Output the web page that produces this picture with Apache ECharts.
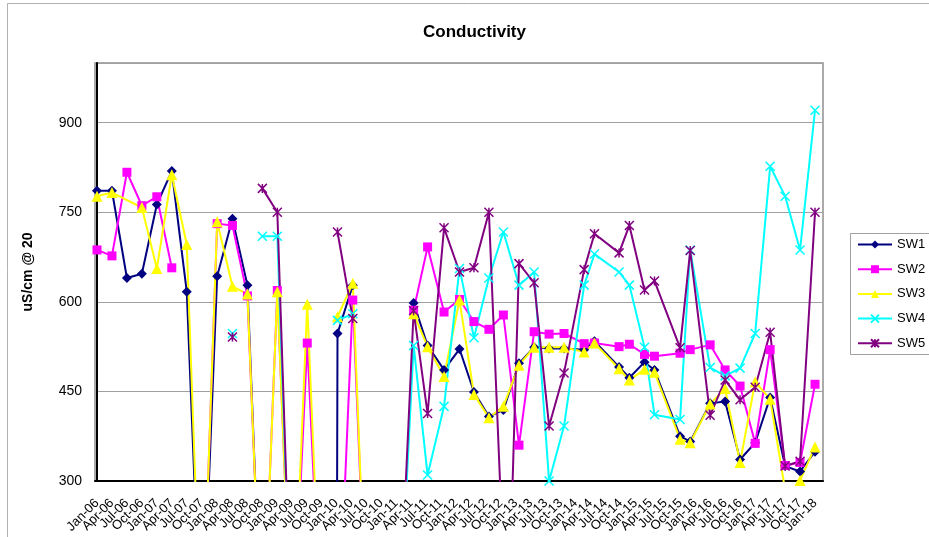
<!DOCTYPE html>
<html>
<head>
<meta charset="utf-8">
<script src="https://cdn.jsdelivr.net/npm/echarts@6/dist/echarts.min.js"></script>
<style>
  html, body { margin: 0; padding: 0; background: #fff; }
  #chart { width: 929px; height: 537px; }
</style>
</head>
<body>
<div id="chart"></div>
<script>
// Quarterly tick labels along the date axis
const tickLabels = [
  'Jan-06','Apr-06','Jul-06','Oct-06','Jan-07','Apr-07','Jul-07','Oct-07',
  'Jan-08','Apr-08','Jul-08','Oct-08','Jan-09','Apr-09','Jul-09','Oct-09',
  'Jan-10','Apr-10','Jul-10','Oct-10','Jan-11','Apr-11','Jul-11','Oct-11',
  'Jan-12','Apr-12','Jul-12','Oct-12','Jan-13','Apr-13','Jul-13','Oct-13',
  'Jan-14','Apr-14','Jul-14','Oct-14','Jan-15','Apr-15','Jul-15','Oct-15',
  'Jan-16','Apr-16','Jul-16','Oct-16','Jan-17','Apr-17','Jul-17','Oct-17',
  'Jan-18'
];

// Conductivity readings (uS/cm @ 20) per sampling date; null = no reading
const sw1 = [
  ['2006-01-01',786],['2006-04-01',786],['2006-07-01',640],['2006-10-01',647],
  ['2007-01-01',763],['2007-04-01',819],['2007-07-01',617],['2007-10-01',0],
  ['2008-01-04',643],['2008-04-06',739],['2008-07-06',628],['2008-10-06',0],
  ['2009-01-06',0],['2009-04-06',0],['2009-07-06',0],['2009-10-06',0],
  ['2010-01-03',0],['2010-01-08',547],['2010-04-10',628],['2010-07-10',null],
  ['2011-04-16',598],['2011-07-10',527],['2011-10-19',486],['2012-01-22',521],
  ['2012-04-19',449],['2012-07-19',408],['2012-10-16',419],['2013-01-20',497],
  ['2013-04-21',524],['2013-07-21',522],['2013-10-21',522],['2014-02-22',520],
  ['2014-04-24',534],['2014-09-22',491],['2014-11-24',473],['2015-02-25',499],
  ['2015-04-25',486],['2015-09-29',375],['2015-11-30',366],['2016-03-30',430],
  ['2016-06-30',433],['2016-09-30',336],['2017-01-01',364],['2017-04-01',440],
  ['2017-07-01',325],['2017-10-01',316],['2018-01-01',349]
];
const sw2 = [
  ['2006-01-01',687],['2006-04-01',677],['2006-07-01',817],['2006-10-01',761],
  ['2007-01-01',776],['2007-04-01',657],['2007-07-01',null],['2007-10-01',0],
  ['2008-01-04',731],['2008-04-06',728],['2008-07-06',610],['2008-10-06',0],
  ['2009-01-06',619],['2009-04-06',0],['2009-07-06',531],['2009-10-06',0],
  ['2010-01-08',0],['2010-04-10',603],['2010-07-10',0],['2010-10-10',null],
  ['2011-04-16',586],['2011-07-10',692],['2011-10-19',583],['2012-01-22',604],
  ['2012-04-19',567],['2012-07-19',554],['2012-10-16',578],['2013-01-20',360],
  ['2013-04-21',550],['2013-07-21',546],['2013-10-21',547],['2014-02-22',530],
  ['2014-04-24',531],['2014-09-22',525],['2014-11-24',529],['2015-02-25',512],
  ['2015-04-25',509],['2015-09-29',514],['2015-11-30',520],['2016-03-30',528],
  ['2016-06-30',486],['2016-09-30',459],['2017-01-01',363],['2017-04-01',520],
  ['2017-07-01',326],['2017-10-01',331],['2018-01-01',462]
];
const sw3 = [
  ['2006-01-01',777],['2006-04-01',783],['2006-10-01',758],['2007-01-01',656],
  ['2007-04-01',813],['2007-07-01',696],['2007-10-01',0],['2008-01-04',734],
  ['2008-04-06',626],['2008-07-06',613],['2008-10-06',0],['2009-01-06',617],
  ['2009-04-06',0],['2009-07-06',596],['2009-10-06',0],['2009-12-01',null],
  ['2010-01-08',575],['2010-04-10',631],['2010-07-10',0],['2010-10-10',null],
  ['2011-04-16',580],['2011-07-10',525],['2011-10-19',475],['2012-01-22',603],
  ['2012-04-19',445],['2012-07-19',406],['2012-10-16',425],['2013-01-20',494],
  ['2013-04-21',524],['2013-07-21',524],['2013-10-21',524],['2014-02-22',516],
  ['2014-04-24',531],['2014-09-22',488],['2014-11-24',469],['2015-02-25',487],
  ['2015-04-25',482],['2015-09-29',370],['2015-11-30',364],['2016-03-30',429],
  ['2016-06-30',455],['2016-09-30',331],['2017-01-01',466],['2017-04-01',437],
  ['2017-07-01',285],['2017-10-01',301],['2018-01-01',357]
];
const sw4 = [
  ['2008-04-06',547],['2008-07-06',null],['2008-10-06',710],['2009-01-06',710],
  ['2009-04-06',0],['2009-07-06',null],['2010-01-08',569],['2010-04-10',580],
  ['2010-07-10',null],['2011-01-10',0],['2011-04-16',527],['2011-07-10',310],
  ['2011-10-19',425],['2012-01-22',656],['2012-04-19',540],['2012-07-19',640],
  ['2012-10-16',717],['2013-01-20',628],['2013-04-21',650],['2013-07-21',300],
  ['2013-10-21',392],['2014-02-22',628],['2014-04-24',680],['2014-09-22',650],
  ['2014-11-24',628],['2015-02-25',524],['2015-04-25',411],['2015-09-29',403],
  ['2015-11-30',687],['2016-03-30',490],['2016-06-30',476],['2016-09-30',489],
  ['2017-01-01',547],['2017-04-01',827],['2017-07-01',777],['2017-10-01',687],
  ['2018-01-01',921]
];
const sw5 = [
  ['2008-04-06',541],['2008-07-06',null],['2008-10-06',790],['2009-01-06',750],
  ['2009-04-06',0],['2009-07-06',null],['2010-01-08',717],['2010-04-10',572],
  ['2010-07-10',null],['2011-01-10',0],['2011-04-16',585],['2011-07-10',413],
  ['2011-10-19',724],['2012-01-22',650],['2012-04-19',657],['2012-07-19',750],
  ['2012-11-10',0],['2013-01-20',664],['2013-04-21',632],['2013-07-21',392],
  ['2013-10-21',481],['2014-02-22',654],['2014-04-24',714],['2014-09-22',682],
  ['2014-11-24',728],['2015-02-25',620],['2015-04-25',635],['2015-09-29',523],
  ['2015-11-30',686],['2016-03-30',410],['2016-06-30',469],['2016-09-30',436],
  ['2017-01-01',457],['2017-04-01',549],['2017-07-01',325],['2017-10-01',333],
  ['2018-01-01',750]
];

const FONT = "'Liberation Sans', Arial, sans-serif";

// Date axis runs in months since Jan 2006, padded by a fraction of a month each side
const AXIS_MIN = -0.4;
const AXIS_MAX = 145.6;
const PLOT_LEFT = 95;
const PLOT_RIGHT = 106;   // distance from the right edge of the canvas
const PLOT_WIDTH = 929 - PLOT_LEFT - PLOT_RIGHT;

// Months elapsed since Jan 2006 (fractional within the month)
function monthsFromIso(iso) {
  const [y, m, d] = iso.split('-').map(Number);
  return (y - 2006) * 12 + (m - 1) + (d - 1) / 30;
}

function toPoints(rows) {
  return rows.map(([d, v]) => [monthsFromIso(d), v === null ? '-' : v]);
}

// The quarterly labels sit on a companion category axis whose band centres
// line up with the first day of each quarter on the date axis.
const pxPerMonth = PLOT_WIDTH / (AXIS_MAX - AXIS_MIN);
const bandWidth = pxPerMonth * 3;
const labelGridLeft = PLOT_LEFT + (0 - AXIS_MIN) * pxPerMonth - bandWidth / 2;
const labelGridWidth = bandWidth * tickLabels.length;

const crossPath = 'path://M0,0L10,10M10,0L0,10';
const starPath = 'path://M0,0L10,10M10,0L0,10M5,0L5,10';

function makeSeries(name, rows, color, symbol, size, strokeOnly) {
  return {
    name: name,
    type: 'line',
    xAxisIndex: 0,
    yAxisIndex: 0,
    data: toPoints(rows),
    symbol: symbol,
    symbolSize: size,
    connectNulls: false,
    clip: true,
    animation: false,
    lineStyle: { color: color, width: 2 },
    itemStyle: strokeOnly
      ? { color: color, borderColor: color, borderWidth: 1.5 }
      : { color: color, borderColor: color, borderWidth: 0 },
    emphasis: { disabled: true }
  };
}

const chart = echarts.init(document.getElementById('chart'), null, { renderer: 'canvas' });
chart.setOption({
  backgroundColor: '#ffffff',
  animation: false,
  textStyle: { fontFamily: FONT },
  graphic: [
    { type: 'rect', shape: { x: 7.5, y: 3.5, width: 1000, height: 600 },
      style: { fill: 'none', stroke: '#b0b0b0', lineWidth: 1 }, silent: true },
    { type: 'rect', shape: { x: 850.5, y: 233.5, width: 100, height: 121 },
      style: { fill: '#fff', stroke: '#a0a0a0', lineWidth: 1 }, silent: true, z: 0 },
    { type: 'text', x: 474.5, y: 32,
      style: { text: 'Conductivity', font: 'bold 17px ' + FONT, fill: '#000',
               textAlign: 'center', textVerticalAlign: 'middle' }, silent: true }
  ],
  grid: [
    {
      left: PLOT_LEFT, top: 63, right: PLOT_RIGHT, bottom: 56,
      show: true, borderColor: '#909090', borderWidth: 1.5, backgroundColor: 'transparent'
    },
    {
      left: labelGridLeft, top: 63, width: labelGridWidth, bottom: 56, show: false
    }
  ],
  legend: {
    orient: 'vertical',
    left: 852, top: 233,
    itemWidth: 34, itemHeight: 10, itemGap: 11.7,
    data: ['SW1','SW2','SW3','SW4','SW5'],
    textStyle: { fontFamily: FONT, fontSize: 13, color: '#000', lineHeight: 13 },
    selectedMode: false,
    z: 5
  },
  xAxis: [
    {
      type: 'value',
      gridIndex: 0,
      min: AXIS_MIN, max: AXIS_MAX,
      axisLine: { show: true, onZero: false, lineStyle: { color: '#000', width: 2 } },
      axisTick: { show: false },
      splitLine: { show: false },
      axisLabel: { show: false }
    },
    {
      type: 'category',
      gridIndex: 1,
      data: tickLabels,
      boundaryGap: true,
      axisLine: { show: false },
      axisTick: { show: false },
      splitLine: { show: false },
      axisLabel: {
        interval: 0, rotate: 45, margin: 20,
        fontFamily: FONT, fontSize: 13, color: '#000'
      }
    }
  ],
  yAxis: [
    {
      type: 'value',
      gridIndex: 0,
      min: 300, max: 1000, interval: 150,
      name: 'uS/cm @ 20',
      nameLocation: 'middle', nameGap: 60, nameRotate: 90,
      nameTextStyle: { fontFamily: FONT, fontSize: 14, fontWeight: 'bold', color: '#000' },
      axisLine: { show: true, lineStyle: { color: '#000', width: 2 } },
      axisTick: { show: false },
      splitLine: { show: true, lineStyle: { color: '#a0a0a0', width: 1 } },
      axisLabel: {
        margin: 13,
        formatter: v => ((v - 300) % 150 === 0 ? String(v) : ''),
        fontFamily: FONT, fontSize: 14, color: '#000'
      }
    },
    {
      type: 'value',
      gridIndex: 1,
      show: false
    }
  ],
  series: [
    makeSeries('SW1', sw1, '#000080', 'diamond', 10, false),
    makeSeries('SW2', sw2, '#FF00FF', 'rect', 9, false),
    makeSeries('SW3', sw3, '#FFFF00', 'triangle', 11, false),
    makeSeries('SW4', sw4, '#00FFFF', crossPath, 9, true),
    makeSeries('SW5', sw5, '#800080', starPath, 9, true)
  ]
});
</script>
</body>
</html>
